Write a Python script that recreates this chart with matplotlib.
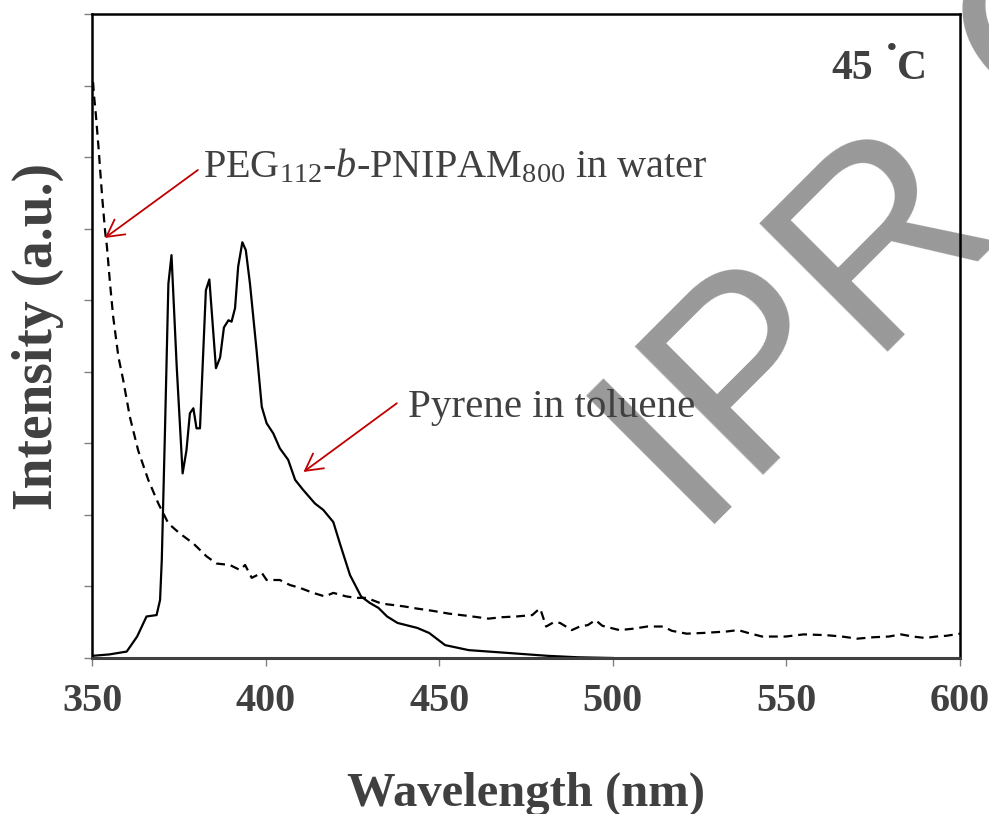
import matplotlib
matplotlib.use('Agg')
import matplotlib.pyplot as plt

# pyrene in toluene (solid line)
pyr_wl = [350, 355, 360, 363, 365.7, 368.6, 369.6, 370.1, 371, 372, 372.9, 374.4,
          376.1, 377.2, 378.2, 379.2, 380.1, 381.1, 382.8, 383.8, 385.7, 386.9,
          388, 389.3, 390.2, 391.2, 392.1, 393.3, 394.3, 395.5, 397.4, 398.9,
          400.3, 402.2, 404.1, 406.5, 408.5, 410.8, 414.2, 416.6, 419.5, 421.4,
          424.3, 427.5, 430, 432.5, 435, 438, 443.7, 447.1, 451.7, 458.5, 470,
          481.3, 490, 500]
pyr_int = [0.03, 0.05, 0.09, 0.3, 0.58, 0.6, 0.81, 1.37, 3.14, 5.23, 5.63, 4.07,
           2.58, 2.9, 3.42, 3.49, 3.21, 3.21, 5.14, 5.29, 4.05, 4.2,
           4.62, 4.72, 4.7, 4.89, 5.47, 5.81, 5.7, 5.23, 4.3, 3.51,
           3.28, 3.14, 2.93, 2.77, 2.49, 2.35, 2.16, 2.07, 1.9, 1.6,
           1.16, 0.86, 0.77, 0.7, 0.58, 0.49, 0.42, 0.35, 0.18, 0.11, 0.07,
           0.03, 0.01, 0.0]

# PEG112-b-PNIPAM800 in water (dashed line)
peg_wl = [350.3, 350.6, 351.1, 351.6, 352.0, 352.3, 353.0, 353.8, 354.3, 355.2,
          356.1, 357.6, 359, 360.9, 363.3, 366.2, 369.1, 372, 375.3, 379.2,
          383, 385.9, 389.7, 392.6, 394.1, 396, 398.9, 400.3, 404.1, 407,
          409.9, 413.7, 417.1, 419.5, 423.3, 426.2, 429.1, 433.4, 436.8, 440,
          443.7, 448, 452.8, 458, 464.2, 468, 472.2, 476.8, 478.2, 479.1,
          480.8, 483, 484.8, 488.2, 490.5, 492.8, 495, 497, 501.9, 506,
          509.9, 514.5, 517, 521.3, 526, 532.7, 536.1, 539, 543, 549.8,
          555, 561.2, 566, 570.4, 575, 579.5, 583, 586.4, 590, 593.2, 596, 600]
peg_int = [8.05, 7.85, 7.6, 7.3, 7.06, 6.85, 6.4, 5.95, 5.75, 5.23,
           4.77, 4.21, 3.88, 3.37, 2.9, 2.49, 2.16, 1.88, 1.74, 1.6,
           1.42, 1.32, 1.3, 1.23, 1.3, 1.12, 1.19, 1.09, 1.09, 1.02,
           0.98, 0.91, 0.86, 0.91, 0.86, 0.84, 0.84, 0.76, 0.74, 0.72,
           0.69, 0.66, 0.62, 0.59, 0.55, 0.57, 0.58, 0.6, 0.66, 0.69,
           0.44, 0.5, 0.49, 0.39, 0.44, 0.46, 0.53, 0.45, 0.39, 0.41,
           0.44, 0.44, 0.38, 0.34, 0.35, 0.37, 0.39, 0.35, 0.3, 0.3,
           0.33, 0.32, 0.3, 0.27, 0.29, 0.3, 0.33, 0.3, 0.28, 0.3, 0.31, 0.34]

xticks = [350, 400, 450, 500, 550, 600]

plt.rcParams['font.family'] = 'Liberation Serif'
plt.rcParams['mathtext.fontset'] = 'custom'
plt.rcParams['mathtext.rm'] = 'Liberation Serif'
plt.rcParams['mathtext.it'] = 'Liberation Serif:italic'
txt = '#404040'

fig = plt.figure(figsize=(9.89, 8.14), dpi=100)
ax = fig.add_axes([92/989, 1-658/814, 868/989, 644/814])

ax.plot(pyr_wl, pyr_int, color='black', lw=1.6, zorder=2)
ax.plot(peg_wl, peg_int, color='black', lw=1.6, ls=(0, (4, 2.6)), zorder=2)

ax.set_xlim(350, 600)
ax.set_ylim(0, 9)
ax.set_xticks(xticks)
ax.set_yticks(range(10))
ax.set_yticklabels([])
ax.tick_params(axis='both', direction='out', length=6, width=1, color='#808080')
ax.tick_params(axis='x', labelsize=29, labelcolor=txt, pad=12)
for lab in ax.get_xticklabels():
    lab.set_fontweight('bold')

for s in ['top', 'right', 'left']:
    ax.spines[s].set_color('black')
    ax.spines[s].set_linewidth(1.8)
ax.spines['bottom'].set_color('#404040')
ax.spines['bottom'].set_linewidth(2.2)

ax.set_xlabel('Wavelength (nm)', fontsize=35, fontweight='bold', color=txt, labelpad=37)
ax.set_ylabel('Intensity (a.u.)', fontsize=40, fontweight='bold', color=txt, labelpad=11)

arrow = dict(arrowstyle='->,head_length=0.55,head_width=0.3', color='#c00000', lw=1.3,
             shrinkA=0, shrinkB=0, mutation_scale=22)
ax.annotate('', xy=(353.7, 5.87), xytext=(380.5, 6.82), arrowprops=arrow, zorder=3)
ax.annotate('', xy=(410.9, 2.60), xytext=(437.8, 3.56), arrowprops=arrow, zorder=3)

ax.text(382.0, 6.72, 'PEG$_{112}$-$b$-PNIPAM$_{800}$ in water', fontsize=29,
        color=txt, ha='left', va='baseline', zorder=3)
ax.text(441.0, 3.37, 'Pyrene in toluene', fontsize=29.5, color=txt,
        ha='left', va='baseline', zorder=3)

# "45 °C" label, the degree sign is a raised dot
ax.text(574.9, 8.09, '45', fontsize=30, fontweight='bold', color=txt,
        ha='right', va='baseline', zorder=3)
ax.text(580.4, 8.50, '\u2022', fontsize=20, fontweight='bold', color=txt,
        ha='center', va='center', zorder=3)
ax.text(590.5, 8.09, 'C', fontsize=30, fontweight='bold', color=txt,
        ha='right', va='baseline', zorder=3)

# diagonal watermark behind the data
wm = dict(transform=fig.transFigure, rotation=45, rotation_mode='anchor',
          ha='left', va='baseline', fontsize=189, family='Liberation Sans',
          color='#999999', zorder=0.5, clip_on=False)
ax.text(690/989, 1-524/814, 'IPR', **wm)
ax.text(1047/989, 1-140/814, 'O', **wm)

fig.savefig('out.png', dpi=100)
